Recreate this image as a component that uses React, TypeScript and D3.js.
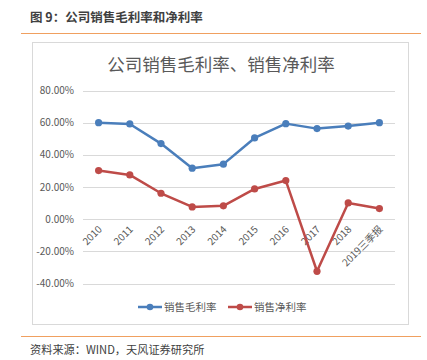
import React, { useEffect, useRef } from 'react';
import * as d3 from 'd3';

const years = ['2010', '2011', '2012', '2013', '2014', '2015', '2016', '2017', '2018', '2019三季报'];
const grossMargin = [60.0, 59.2, 47.0, 31.7, 34.2, 50.5, 59.4, 56.3, 57.9, 60.0];
const netMargin = [30.2, 27.5, 16.1, 7.6, 8.3, 18.8, 24.0, -32.4, 10.1, 6.6];
const yTicks = [-40, -20, 0, 20, 40, 60, 80];
const seriesNames = ['销售毛利率', '销售净利率'];

const FONT = '"Noto Sans CJK SC", "Noto Sans", sans-serif';

const App: React.FC = () => {
    const svgRef = useRef<SVGSVGElement>(null);

    useEffect(() => {
        if (!svgRef.current) return;
        const svg = d3.select(svgRef.current);
        svg.selectAll('*').remove();

        // page header
        svg.append('text')
            .attr('x', 30).attr('y', 22)
            .attr('font-family', FONT).attr('font-size', 12.5).attr('font-weight', 600)
            .attr('fill', '#404040')
            .text('图 9：公司销售毛利率和净利率');
        svg.append('line')
            .attr('x1', 21).attr('x2', 421).attr('y1', 33.5).attr('y2', 33.5)
            .attr('stroke', '#f0a060').attr('stroke-width', 1.2);

        // chart frame
        svg.append('rect')
            .attr('x', 32.5).attr('y', 42.5).attr('width', 376).attr('height', 282)
            .attr('fill', 'white').attr('stroke', '#d9d9d9');

        svg.append('text')
            .attr('x', 221).attr('y', 71)
            .attr('text-anchor', 'middle')
            .attr('font-family', FONT).attr('font-size', 17.5)
            .attr('fill', '#595959')
            .text('公司销售毛利率、销售净利率');

        const x = d3.scalePoint<string>().domain(years).range([83, 395]).padding(0.5);
        const y = d3.scaleLinear().domain([-40, 80]).range([283.5, 90.5]);

        // grid
        svg.append('g')
            .selectAll('line')
            .data(yTicks)
            .enter()
            .append('line')
            .attr('x1', 83).attr('x2', 395)
            .attr('y1', d => Math.round(y(d)) + 0.5).attr('y2', d => Math.round(y(d)) + 0.5)
            .attr('stroke', '#d9d9d9');

        svg.append('g')
            .selectAll('text')
            .data(yTicks)
            .enter()
            .append('text')
            .attr('x', 74).attr('y', d => y(d) + 3.5)
            .attr('text-anchor', 'end')
            .attr('font-family', FONT).attr('font-size', 10)
            .attr('fill', '#595959')
            .text(d => d.toFixed(2) + '%');

        // x labels
        svg.append('g')
            .selectAll('text')
            .data(years)
            .enter()
            .append('text')
            .attr('transform', d => `translate(${(x(d) as number) + 4}, 230) rotate(-45)`)
            .attr('text-anchor', 'end')
            .attr('font-family', FONT).attr('font-size', 10)
            .attr('fill', '#595959')
            .text(d => d);

        const colors = ['#4a7ebb', '#be4b48'];
        const series = [grossMargin, netMargin];
        const line = d3.line<number>()
            .x((_, i) => x(years[i]) as number)
            .y(d => y(d));

        series.forEach((vals, si) => {
            svg.append('path')
                .datum(vals)
                .attr('fill', 'none')
                .attr('stroke', colors[si])
                .attr('stroke-width', 2.5)
                .attr('stroke-linejoin', 'round')
                .attr('d', line);
            svg.append('g')
                .selectAll('circle')
                .data(vals)
                .enter()
                .append('circle')
                .attr('cx', (_, i) => x(years[i]) as number)
                .attr('cy', d => y(d))
                .attr('r', 3.6)
                .attr('fill', colors[si]);
        });

        // legend
        const legendX = [138, 228];
        seriesNames.forEach((name, i) => {
            const g = svg.append('g').attr('transform', `translate(${legendX[i]}, 307)`);
            g.append('line').attr('x1', 0).attr('x2', 24).attr('y1', 0).attr('y2', 0)
                .attr('stroke', colors[i]).attr('stroke-width', 2.5);
            g.append('circle').attr('cx', 12).attr('cy', 0).attr('r', 3.3).attr('fill', colors[i]);
            g.append('text').attr('x', 26).attr('y', 4)
                .attr('font-family', FONT).attr('font-size', 10.5)
                .attr('fill', '#595959')
                .text(name);
        });

        // footer
        svg.append('line')
            .attr('x1', 21).attr('x2', 421).attr('y1', 336.5).attr('y2', 336.5)
            .attr('stroke', '#f0a060').attr('stroke-width', 1.2);
        svg.append('text')
            .attr('x', 30).attr('y', 354)
            .attr('font-family', FONT).attr('font-size', 11.2)
            .attr('fill', '#404040')
            .text('资料来源：WIND，天风证券研究所');
    }, []);

    return (
        <svg ref={svgRef} width={427} height={360}
            style={{ position: 'absolute', left: 0, top: 0, background: 'white' }} />
    );
};

export default App;
